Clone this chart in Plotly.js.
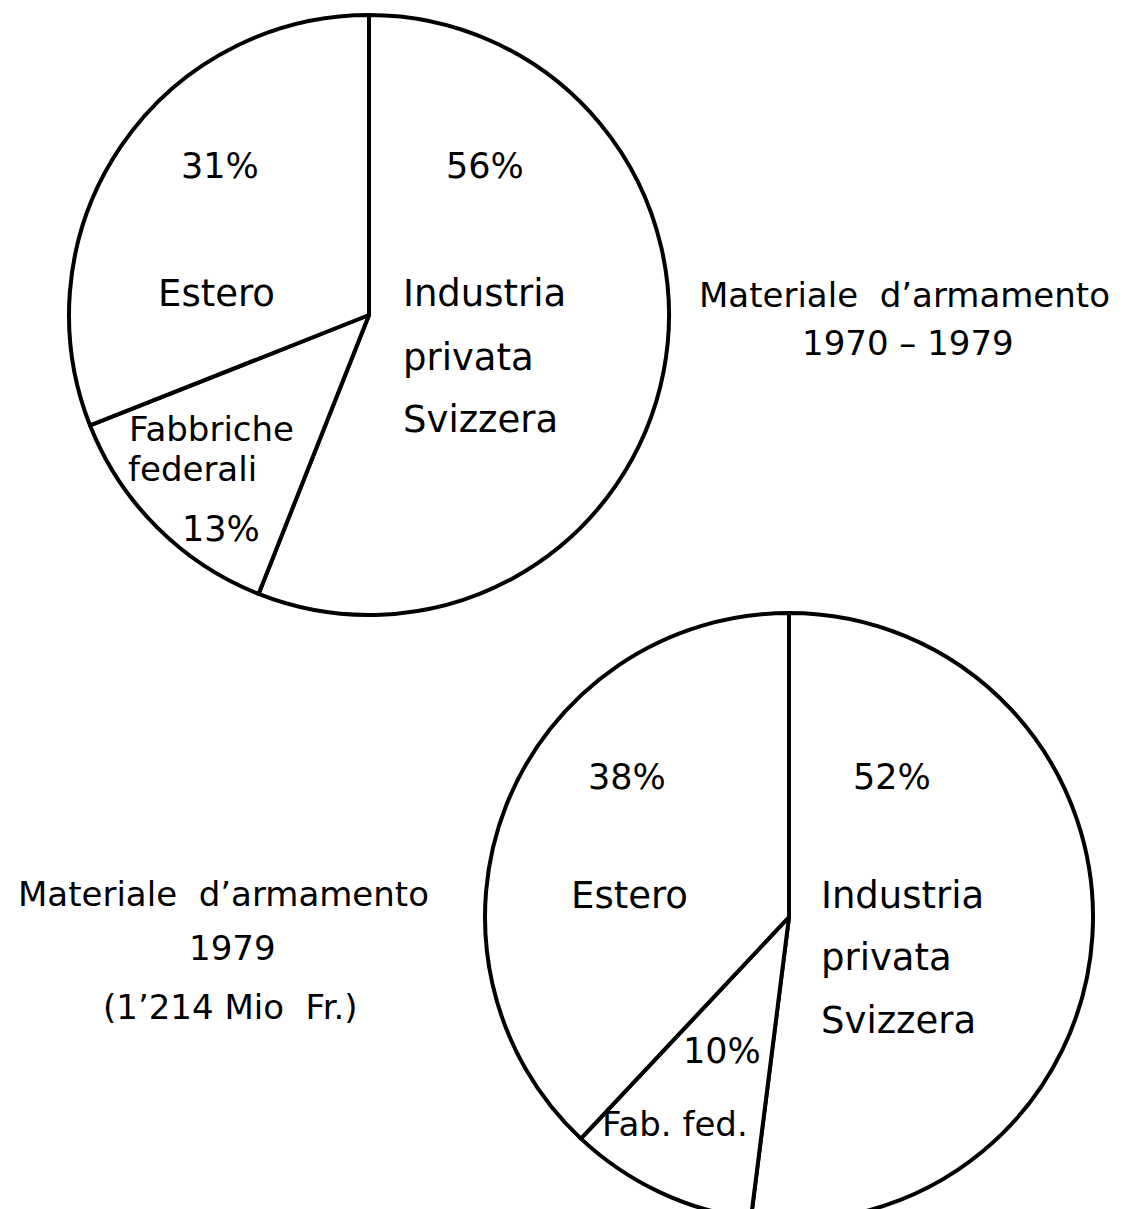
<!DOCTYPE html>
<html>
<head>
<meta charset="utf-8">
<script src="https://cdn.plot.ly/plotly-3.0.1.min.js"></script>
<style>
html,body{margin:0;padding:0;background:#fff;overflow:hidden;}
#chart{width:1127px;height:1225px;}
</style>
</head>
<body>
<div id="chart"></div>
<script>
// Data
const categories = ['Industria privata Svizzera', 'Fabbriche federali', 'Estero'];
const values1970_79 = [56, 13, 31];
const values1979 = [52, 10, 38];
const title1 = ['Materiale\u00a0\u00a0d\u2019armamento', '1970 \u2013 1979'];
const title2 = ['Materiale\u00a0\u00a0d\u2019armamento', '1979', '(1\u2019214 Mio\u00a0 Fr.)'];
const industriaLines = ['Industria', 'privata', 'Svizzera'];
const fabbricheLines1 = ['Fabbriche', 'federali'];
const fabbricheShort = 'Fab.\u00a0fed.';
const esteroLabel = 'Estero';

const W = 1127, H = 1225;
const fx = p => p / W;
const fy = p => 1 - p / H;
const FAM = 'DejaVu Sans, sans-serif';

function pieTrace(vals, cx, cy, r) {
  return {
    type: 'pie',
    values: vals,
    labels: categories,
    sort: false,
    direction: 'clockwise',
    rotation: 0,
    textinfo: 'none',
    hoverinfo: 'skip',
    showlegend: false,
    marker: {colors: ['#ffffff', '#ffffff', '#ffffff'], line: {color: '#000', width: 4}},
    domain: {x: [fx(cx - r), fx(cx + r)], y: [fy(cy + r), fy(cy - r)]}
  };
}

const pct = v => v + '%';
function ann(text, x, y, xanchor, size) {
  return {text: text, x: fx(x), y: fy(y), xref: 'paper', yref: 'paper',
          xanchor: xanchor || 'center', yanchor: 'middle', showarrow: false,
          font: {family: FAM, size: size || 36, color: '#000'}};
}

const annotations = [
  // top pie
  ann(pct(values1970_79[2]), 220, 166, 'center', 35),
  ann(pct(values1970_79[0]), 485, 166, 'center', 35),
  ann(esteroLabel, 216, 293, 'center', 37),
  ann(industriaLines[0], 401, 293, 'left', 37),
  ann(industriaLines[1], 401, 358, 'left', 37),
  ann(industriaLines[2], 401, 419, 'left', 37),
  ann(fabbricheLines1[0], 127, 429, 'left', 34),
  ann(fabbricheLines1[1], 126, 469, 'left', 34),
  ann(pct(values1970_79[1]), 221, 529, 'center', 35),
  // top title
  ann(title1[0], 905, 295, 'center', 34),
  ann(title1[1], 908, 343, 'center', 34),
  // bottom pie
  ann(pct(values1979[2]), 627, 777, 'center', 35),
  ann(pct(values1979[0]), 892, 777, 'center', 35),
  ann(esteroLabel, 630, 895, 'center', 37),
  ann(industriaLines[0], 819, 895, 'left', 37),
  ann(industriaLines[1], 819, 957, 'left', 37),
  ann(industriaLines[2], 819, 1020, 'left', 37),
  ann(pct(values1979[1]), 722, 1051, 'center', 35),
  ann(fabbricheShort, 675, 1124, 'center', 34),
  // bottom title
  ann(title2[0], 223, 894, 'center', 34),
  ann(title2[1], 232, 948, 'center', 34),
  ann(title2[2], 230, 1007, 'center', 34)
];

const layout = {
  width: W, height: H,
  margin: {l: 0, r: 0, t: 0, b: 0},
  paper_bgcolor: '#fff',
  plot_bgcolor: '#fff',
  annotations: annotations
};

Plotly.newPlot('chart', [pieTrace(values1970_79, 369, 315, 300), pieTrace(values1979, 789, 917, 304)], layout, {staticPlot: true});
</script>
</body>
</html>
